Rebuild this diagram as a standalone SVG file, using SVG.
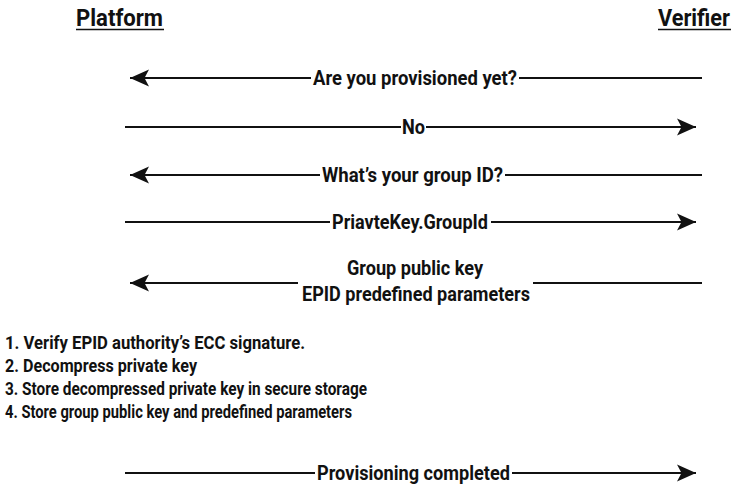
<svg xmlns="http://www.w3.org/2000/svg" width="734" height="486" viewBox="0 0 734 486">
<style>
text{font-family:Roboto,"Liberation Sans",sans-serif;font-weight:bold;fill:#111;}
.h{font-size:23px;}
.m{font-size:20px;}
.l{font-size:19px;}
.ln{stroke:#111;stroke-width:2;fill:none;}
.ul{stroke:#111;stroke-width:1.6;}
</style>
<defs>
<marker id="ah" viewBox="-21 -10 22 20" refX="0" refY="0" markerWidth="22" markerHeight="20" markerUnits="userSpaceOnUse" orient="auto">
<path d="M0,0 L-19,-8.5 L-14.5,0 L-19,8.5 Z" fill="#111"/>
</marker>
</defs>
<g id="platform">
<text class="h" x="76" y="26" textLength="87" lengthAdjust="spacingAndGlyphs">Platform</text>
<line class="ul" x1="76" y1="29.5" x2="164" y2="29.5"/>
</g>
<g id="verifier">
<text class="h" x="658" y="26" textLength="72" lengthAdjust="spacingAndGlyphs">Verifier</text>
<line class="ul" x1="658" y1="29.5" x2="731" y2="29.5"/>
</g>
<g id="steps">
<text class="l" x="5" y="349" textLength="300" lengthAdjust="spacingAndGlyphs">1. Verify EPID authority’s ECC signature.</text>
<text class="l" x="5" y="372" textLength="192" lengthAdjust="spacingAndGlyphs">2. Decompress private key</text>
<text class="l" x="5" y="395" textLength="362" lengthAdjust="spacingAndGlyphs">3. Store decompressed private key in secure storage</text>
<text class="l" x="5" y="418" textLength="347" lengthAdjust="spacingAndGlyphs">4. Store group public key and predefined parameters</text>
</g>
<g id="connectors">
<g id="m1">
<line class="ln" x1="311" y1="78" x2="130" y2="78" marker-end="url(#ah)"/>
<line class="ln" x1="519" y1="78" x2="702" y2="78"/>
<text class="m" x="313" y="85" textLength="204" lengthAdjust="spacingAndGlyphs">Are you provisioned yet?</text>
</g>
<g id="m2">
<line class="ln" x1="125" y1="127" x2="401" y2="127"/>
<line class="ln" x1="426" y1="127" x2="696" y2="127" marker-end="url(#ah)"/>
<text class="m" x="402" y="134" textLength="23" lengthAdjust="spacingAndGlyphs">No</text>
</g>
<g id="m3">
<line class="ln" x1="320" y1="175" x2="130" y2="175" marker-end="url(#ah)"/>
<line class="ln" x1="505" y1="175" x2="702" y2="175"/>
<text class="m" x="322" y="182" textLength="181" lengthAdjust="spacingAndGlyphs">What’s your group ID?</text>
</g>
<g id="m4">
<line class="ln" x1="125" y1="222" x2="330" y2="222"/>
<line class="ln" x1="491" y1="222" x2="696" y2="222" marker-end="url(#ah)"/>
<text class="m" x="332" y="229" textLength="156" lengthAdjust="spacingAndGlyphs">PriavteKey.GroupId</text>
</g>
<g id="m5">
<line class="ln" x1="298" y1="283" x2="130" y2="283" marker-end="url(#ah)"/>
<line class="ln" x1="533" y1="283" x2="702" y2="283"/>
<text class="m" x="347" y="275" textLength="136" lengthAdjust="spacingAndGlyphs">Group public key</text>
<text class="m" x="302" y="301" textLength="228" lengthAdjust="spacingAndGlyphs">EPID predefined parameters</text>
</g>
<g id="m6">
<line class="ln" x1="125" y1="473" x2="315" y2="473"/>
<line class="ln" x1="512" y1="473" x2="696" y2="473" marker-end="url(#ah)"/>
<text class="m" x="317" y="480" textLength="193" lengthAdjust="spacingAndGlyphs">Provisioning completed</text>
</g>
</g>
</svg>
